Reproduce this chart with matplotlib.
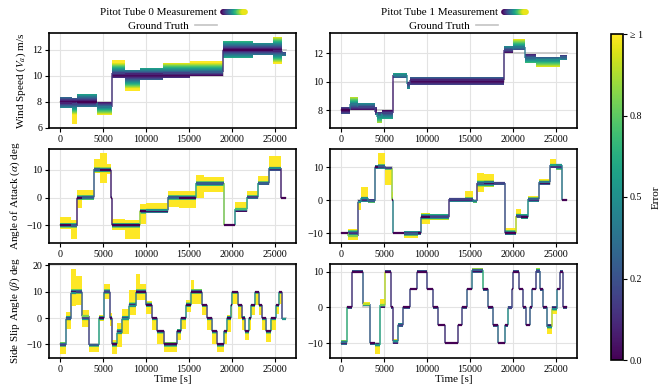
import numpy as np
import matplotlib
matplotlib.use("Agg")
import matplotlib.pyplot as plt
from matplotlib.collections import LineCollection
from matplotlib.legend_handler import HandlerBase
from matplotlib.lines import Line2D
from matplotlib.colors import Normalize
from matplotlib.cm import ScalarMappable

plt.rcParams['font.family'] = ['Liberation Serif', 'DejaVu Serif']
plt.rcParams['mathtext.fontset'] = 'stix'

T_END = 26240
x_ticks = [0, 5000, 10000, 15000, 20000, 25000]

# ---------------- ground truth ----------------
wind_truth_t = [0, 6100, 19000]
wind_truth_v = [8, 10, 12]

aoa_truth_t = [0, 1940, 3950, 5900, 6100, 9300, 12600, 15780, 19050, 20380, 21700, 23060, 24300, 25700]
aoa_truth_v = [-10, 0, 10, 0, -10, -5, 0, 5, -10, -5, 0, 5, 10, 0]

ss_truth_t = [0, 660, 1240, 2600, 3370, 4535, 5116, 5814, 6085, 6667, 7248, 8023, 8799, 9961,
              10659, 11318, 12093, 13643, 14031, 14613, 15194, 16551, 17132, 17713, 18295, 19070,
              19457, 19845, 20039, 20737, 21124, 21512, 21977, 22248, 22636, 23140, 23527, 23993,
              24496, 25078, 25465, 25853]
ss_truth_v = [-10, 0, 10, 0, -10, 0, 10, 0, -10, -5, 0, 5, 10, 5, 0, -5, -10, -5, 0, 5, 10, 5,
              0, -5, -10, -5, 0, 5, 10, 5, 0, -5, 0, 5, 10, 5, 0, -5, 0, 5, 10, 0]

# ---------------- measurements (piece start, band low, band high, centre) ----------------
wind0_t = [0, 1360, 2000, 4260, 6100, 7560, 9300, 12000, 15100, 19000, 22480, 24800, 25780]
wind0_lo = [7.5, 6.3, 7.6, 7.0, 9.8, 8.8, 9.7, 9.8, 10.0, 11.4, 11.6, 10.9, 11.5]
wind0_hi = [8.4, 8.3, 8.6, 7.95, 11.2, 10.45, 10.6, 11.0, 11.1, 12.7, 12.55, 12.95, 11.85]
wind0_mid = [7.9, 7.8, 8.0, 7.6, 10.2, 10.1, 10.1, 10.2, 10.3, 12.0, 12.0, 11.9, 11.7]
wind0_jump = [0.15, 0.15]

wind1_t = [0, 1050, 2000, 3950, 4150, 4730, 6100, 7640, 8020, 19000, 20040, 21400, 22700, 25500]
wind1_lo = [7.75, 8.0, 8.0, 7.65, 7.1, 7.4, 10.25, 9.5, 9.8, 12.0, 12.2, 11.3, 11.05, 11.5]
wind1_hi = [8.2, 8.95, 8.5, 8.2, 7.9, 8.0, 10.6, 10.0, 10.35, 12.5, 13.0, 11.9, 11.75, 11.85]
wind1_mid = [8.0, 8.4, 8.2, 7.9, 7.5, 7.8, 10.45, 9.8, 10.1, 12.2, 12.4, 11.65, 11.5, 11.7]
wind1_jump = [0.1, 0.15]

aoa0_t = [0, 1300, 1940, 2500, 3950, 4700, 5500, 5900, 6100, 7500, 9300, 10000, 12600, 13800,
          15780, 16800, 19050, 20380, 21700, 23060, 24300, 25700]
aoa0_lo = [-11.3, -15.1, -3.9, -1.0, 8.9, 5.2, 8.5, -0.5, -11.8, -15.1, -9.4, -5.7, -3.3, -3.9,
           0.0, 2.0, -10.3, -5.1, -0.5, 4.5, 9.5, -0.3]
aoa0_hi = [-7.2, -8.0, 2.8, 2.8, 13.8, 15.9, 12.0, 0.5, -7.6, -8.2, -2.5, -2.1, 2.4, 2.4,
           8.3, 7.5, -9.7, -1.5, 2.4, 7.6, 14.9, 0.3]
aoa0_mid = [-10.0, -10.3, 0.0, 0.3, 10.3, 10.0, 10.0, 0.0, -10.0, -10.0, -5.0, -4.5, 0.3, 0.0,
            5.3, 5.3, -10.0, -4.3, 0.2, 5.3, 10.5, 0.0]
aoa0_jump = [0.1, 0.3, 0.1, 0.1, 0.85, 0.3, 0.6, 0.8, 0.5, 0.6, 0.55, 0.3, 0.1]

aoa1_t = [0, 850, 1940, 2300, 3100, 3950, 4300, 5100, 5900, 6100, 7300, 9000, 9300, 10300,
          12600, 14400, 15300, 15780, 16600, 17800, 19050, 20380, 20900, 21700, 23060, 24300,
          25000, 25700]
aoa1_lo = [-10.3, -12.0, -3.0, -0.5, -0.8, 9.5, 9.5, 4.6, -0.3, -10.3, -11.5, -10.5, -7.2, -6.0,
           -0.5, -0.5, -1.0, 2.5, 4.0, 4.7, -10.5, -5.5, -5.8, -0.5, 4.6, 9.8, 9.2, -0.3]
aoa1_hi = [-9.7, -8.7, 0.0, 4.1, 0.2, 10.5, 14.3, 10.0, 2.5, -9.7, -9.5, -9.5, -4.0, -4.3,
           0.7, 2.6, 0.0, 8.2, 7.8, 5.5, -8.5, -2.8, -4.2, 1.2, 6.4, 12.3, 10.8, 0.3]
aoa1_mid = [-10.0, -10.8, -0.5, 0.5, -0.3, 10.0, 10.3, 9.8, 0.0, -10.0, -10.3, -10.0, -5.0, -5.2,
            0.2, 0.2, -0.4, 5.3, 5.4, 5.2, -10.0, -4.8, -5.0, 0.3, 5.4, 10.6, 10.5, 0.0]
aoa1_jump = [0.2, 0.35, 0.85, 0.45, 0.35, 0.15, 0.15, 0.25, 0.9, 0.5, 0.3, 0.3, 0.4]

ss0_t = [0, 660, 1240, 1900, 2600, 3370, 4535, 5116, 5814, 6085, 6667, 7248, 8023, 8799, 9300,
         9961, 10659, 11318, 12093, 13643, 14031, 14613, 15194, 15600, 16551, 17132, 17713, 18295,
         19070, 19457, 19845, 20039, 20737, 21124, 21512, 21977, 22248, 22636, 23140, 23527,
         23993, 24496, 25078, 25465, 25853]
ss0_lo = [-13.4, -4.0, 4.5, 4.8, -3.4, -13.0, -1.0, 7.3, -3.0, -13.4, -11.0, -6.0, 1.0, 6.7, 6.7,
          1.6, -4.6, -9.7, -12.8, -8.4, -4.0, 2.3, 5.4, 5.4, 1.0, -4.6, -9.7, -12.8,
          -9.7, -5.3, 1.0, 5.4, -0.2, -4.6, -8.4, -4.4, 1.0, 4.8, 1.0, -4.6,
          -9.0, -4.6, 1.6, 5.4, -0.8]
ss0_hi = [-9.0, 2.3, 18.6, 16.0, 2.9, -9.7, 1.0, 13.0, 2.0, -8.4, -2.0, 3.5, 10.4, 16.7, 13.0,
          6.5, 0.5, -4.5, -9.0, -4.0, 0.4, 6.7, 14.2, 11.0, 5.4, 0.2, -4.7, -9.7,
          -4.7, 1.0, 5.0, 10.2, 5.4, 0.6, -4.6, 0.4, 5.4, 10.2, 5.4, 0.4,
          -4.6, 0.4, 5.4, 10.2, -0.3]
ss0_mid = [-10.2, -0.3, 9.5, 9.8, 0.8, -10.3, 0.0, 9.8, 0.0, -10.0, -5.5, -0.5, 4.5, 10.0, 10.0,
           5.0, 0.0, -5.0, -10.0, -5.0, 0.0, 5.0, 10.0, 10.0, 5.0, 0.0, -5.0, -10.0,
           -5.0, 0.0, 5.0, 10.0, 5.0, 0.0, -5.0, 0.0, 5.0, 10.0, 5.0, 0.0,
           -5.0, 0.0, 5.0, 10.0, -0.5]
ss0_jump = [0.4, 0.3, 0.3, 0.2, 0.6, 0.4, 0.2, 0.2, 0.5, 0.4, 0.5, 0.4, 0.3, 0.2, 0.3, 0.2, 0.3,
            0.4, 0.5, 0.5, 0.3, 0.2, 0.3, 0.2, 0.4, 0.5, 0.5, 0.5, 0.3, 0.2, 0.3, 0.5, 0.5, 0.5,
            0.3, 0.2, 0.3, 0.5, 0.5, 0.5, 0.2]

ss1_t = [0, 660, 1240, 2600, 3370, 3950, 4535, 5116, 5814, 6085, 6667, 7248, 8023, 8799, 9961,
         10659, 11318, 12093, 13643, 14031, 14613, 15194, 16551, 17132, 17713, 18295, 19070,
         19457, 19845, 20039, 20737, 21124, 21512, 21977, 22248, 22636, 23140, 23527, 23993,
         24496, 25078, 25465, 25853]
ss1_lo = [-10.5, -0.3, 9.7, 0.3, -10.4, -13.0, -0.2, 9.6, -0.3, -10.3, -5.4, -0.3, 4.7, 9.7, 4.7,
          -0.3, -5.3, -10.3, -5.3, -0.3, 4.7, 9.5, 4.6, -0.4, -5.4, -10.3, -5.4,
          -0.5, 4.7, 9.7, 4.7, -0.3, -5.3, -0.3, 4.7, 9.7, 4.6, -0.3, -7.3,
          -1.8, 4.7, 9.7, -0.3]
ss1_hi = [-9.0, 0.3, 10.4, 1.6, -9.7, -9.8, 2.3, 10.5, 0.3, -8.7, -4.4, 0.3, 5.3, 10.4, 5.3,
          0.3, -4.7, -9.7, -4.7, 0.3, 5.3, 11.0, 5.4, 0.3, -4.6, -9.7, -4.6,
          0.3, 5.3, 10.3, 5.3, 0.3, -4.7, 0.3, 5.3, 10.9, 5.4, 0.3, -4.5,
          0.3, 5.3, 10.3, 0.3]
ss1_mid = [-9.6, 0.0, 10.0, 0.9, -10.0, -10.5, 0.8, 10.0, 0.0, -9.5, -4.8, 0.0, 5.0, 10.0, 5.0,
           0.0, -5.0, -10.0, -5.0, 0.0, 5.0, 10.3, 5.0, 0.0, -5.0, -10.0, -5.0,
           -0.2, 5.0, 10.0, 5.0, 0.0, -5.0, 0.0, 5.0, 10.2, 5.0, 0.0, -5.5,
           -0.5, 5.0, 10.0, 0.0]
ss1_jump = [0.65, 0.15, 0.3, 0.3, 0.6, 0.9, 0.15, 0.15, 0.35, 0.25, 0.2, 0.2, 0.2, 0.2, 0.2, 0.15,
            0.15, 0.2, 0.3, 0.4, 0.65, 0.3, 0.3, 0.35, 0.4, 0.5, 0.2, 0.2, 0.2, 0.2, 0.25, 0.3,
            0.3, 0.2, 0.3, 0.3, 0.35, 0.9, 0.4, 0.2, 0.2]

cbar_ticks = [0.0, 0.25, 0.5, 0.75, 1.0]
cbar_labels = ['0.0', '0.2', '0.5', '0.8', '≥ 1']

cmap = plt.get_cmap('viridis')
norm = Normalize(0, 1)
FS = 8
TFS = 7.2


class GradHandle:
    pass


class GradHandler(HandlerBase):
    def create_artists(self, legend, orig_handle, xdescent, ydescent, width, height, fontsize, trans):
        n = 30
        xs = np.linspace(0, width, n + 1) - xdescent
        y = height / 2 - ydescent
        segs = [[(xs[i], y), (xs[i + 1], y)] for i in range(n)]
        lc = LineCollection(segs, cmap=cmap, norm=norm, linewidths=4.2, capstyle='round',
                            transform=trans)
        lc.set_array(np.linspace(0, 1, n))
        return [lc]


def draw_panel(ax, gt_t, gt_v, p_t, p_lo, p_hi, p_mid, jump, ylim, yticks):
    gt_t = np.asarray(gt_t, float)
    gt_v = np.asarray(gt_v, float)
    edges = np.append(np.asarray(p_t, float), T_END)
    lo = np.asarray(p_lo, float)
    hi = np.asarray(p_hi, float)
    mid = np.asarray(p_mid, float)
    centres = 0.5 * (edges[:-1] + edges[1:])
    idx = np.searchsorted(gt_t, centres, side='right') - 1
    truth = gt_v[idx]

    # ground truth
    ax.step(np.append(gt_t, T_END), np.append(gt_v, gt_v[-1]), where='post',
            color='#c4c4c4', lw=1.2, zorder=1.5)

    # measurement band coloured by error
    yedges = np.linspace(ylim[0], ylim[1], 700)
    yc = 0.5 * (yedges[:-1] + yedges[1:])
    err = np.clip(np.abs(yc[:, None] - truth[None, :]), 0, 1)
    mask = (yc[:, None] < lo[None, :]) | (yc[:, None] > hi[None, :])
    C = np.ma.array(err, mask=mask)
    ax.pcolormesh(edges, yedges, C, cmap=cmap, norm=norm, shading='flat',
                  antialiased=False, zorder=2, linewidth=0)

    # centre line
    hsegs, hcols, vsegs, vcols = [], [], [], []
    n = len(mid)
    for i in range(n):
        hsegs.append([(edges[i], mid[i]), (edges[i + 1], mid[i])])
        hcols.append(min(abs(mid[i] - truth[i]), 1))
        if i < n - 1:
            vsegs.append([(edges[i + 1], mid[i]), (edges[i + 1], mid[i + 1])])
            if idx[i + 1] != idx[i]:
                k = idx[i + 1] - 1
                vcols.append(jump[k] if k < len(jump) else 0.3)
            else:
                vcols.append(max(hcols[-1], min(abs(mid[i + 1] - truth[i + 1]), 1)))
    lcv = LineCollection(vsegs, cmap=cmap, norm=norm, linewidths=1.3, alpha=0.75, zorder=3)
    lcv.set_array(np.asarray(vcols))
    ax.add_collection(lcv)
    lch = LineCollection(hsegs, cmap=cmap, norm=norm, linewidths=1.6, zorder=3)
    lch.set_array(np.asarray(hcols))
    ax.add_collection(lch)

    ax.set_xlim(-1280, 27440)
    ax.set_ylim(*ylim)
    ax.set_xticks(x_ticks)
    ax.set_yticks(yticks)
    ax.grid(True, color='#e3e3e3', lw=0.8, zorder=0)
    ax.set_axisbelow(True)
    for s in ax.spines.values():
        s.set_linewidth(1.2)
    ax.tick_params(labelsize=TFS, length=3, width=0.8, pad=2)


fig = plt.figure(figsize=(6.62, 3.86), dpi=100)
W, H = 662.0, 386.0


def add_ax(x0, x1, y0, y1):
    return fig.add_axes([x0 / W, 1 - y1 / H, (x1 - x0) / W, (y1 - y0) / H])


cols_x = [(49, 296), (330, 577)]
rows_y = [(33, 128), (149, 243), (264, 358)]
axes = [[add_ax(cx[0], cx[1], ry[0], ry[1]) for cx in cols_x] for ry in rows_y]

draw_panel(axes[0][0], wind_truth_t, wind_truth_v, wind0_t, wind0_lo, wind0_hi, wind0_mid,
           wind0_jump, (5.98, 13.29), [6, 8, 10, 12])
draw_panel(axes[0][1], wind_truth_t, wind_truth_v, wind1_t, wind1_lo, wind1_hi, wind1_mid,
           wind1_jump, (6.75, 13.41), [8, 10, 12])
draw_panel(axes[1][0], aoa_truth_t, aoa_truth_v, aoa0_t, aoa0_lo, aoa0_hi, aoa0_mid,
           aoa0_jump, (-16.4, 17.5), [-10, 0, 10])
draw_panel(axes[1][1], aoa_truth_t, aoa_truth_v, aoa1_t, aoa1_lo, aoa1_hi, aoa1_mid,
           aoa1_jump, (-13.0, 15.45), [-10, 0, 10])
draw_panel(axes[2][0], ss_truth_t, ss_truth_v, ss0_t, ss0_lo, ss0_hi, ss0_mid,
           ss0_jump, (-15.1, 20.4), [-10, 0, 10, 20])
draw_panel(axes[2][1], ss_truth_t, ss_truth_v, ss1_t, ss1_lo, ss1_hi, ss1_mid,
           ss1_jump, (-14.1, 12.1), [-10, 0, 10])

axes[0][0].set_ylabel(r'Wind Speed ($V_a$) m/s', fontsize=FS, labelpad=3)
axes[1][0].set_ylabel(r'Angle of Attack ($\alpha$) deg', fontsize=FS, labelpad=3)
axes[2][0].set_ylabel(r'Side Slip Angle ($\beta$) deg', fontsize=FS, labelpad=3)
for ax in axes[2]:
    ax.set_xlabel('Time [s]', fontsize=FS, labelpad=1)

# legends
for j, name in enumerate(['Pitot Tube 0 Measurement', 'Pitot Tube 1 Measurement']):
    ax = axes[0][j]
    leg1 = ax.legend([GradHandle()], [name], handler_map={GradHandle: GradHandler()},
                     loc='center', bbox_to_anchor=(0.5, 1.215), frameon=False,
                     markerfirst=False, fontsize=FS, handlelength=2.0, handletextpad=0.6,
                     borderpad=0, borderaxespad=0)
    ax.add_artist(leg1)
    ax.legend([Line2D([], [], color='#c4c4c4', lw=1.2)], ['Ground Truth'],
              loc='center', bbox_to_anchor=(0.5, 1.075), frameon=False, markerfirst=False,
              fontsize=FS, handlelength=2.0, handletextpad=0.6, borderpad=0, borderaxespad=0)

# colorbar
cax = fig.add_axes([611 / W, 1 - 360 / H, 12 / W, 326 / H])
sm = ScalarMappable(norm=norm, cmap=cmap)
cb = fig.colorbar(sm, cax=cax)
cb.set_ticks(cbar_ticks)
cb.set_ticklabels(cbar_labels)
cb.ax.tick_params(labelsize=TFS, length=3, width=0.8, pad=2)
cb.outline.set_linewidth(1.2)
cb.set_label('Error', fontsize=FS, labelpad=6)

fig.savefig('out.png', dpi=100)
